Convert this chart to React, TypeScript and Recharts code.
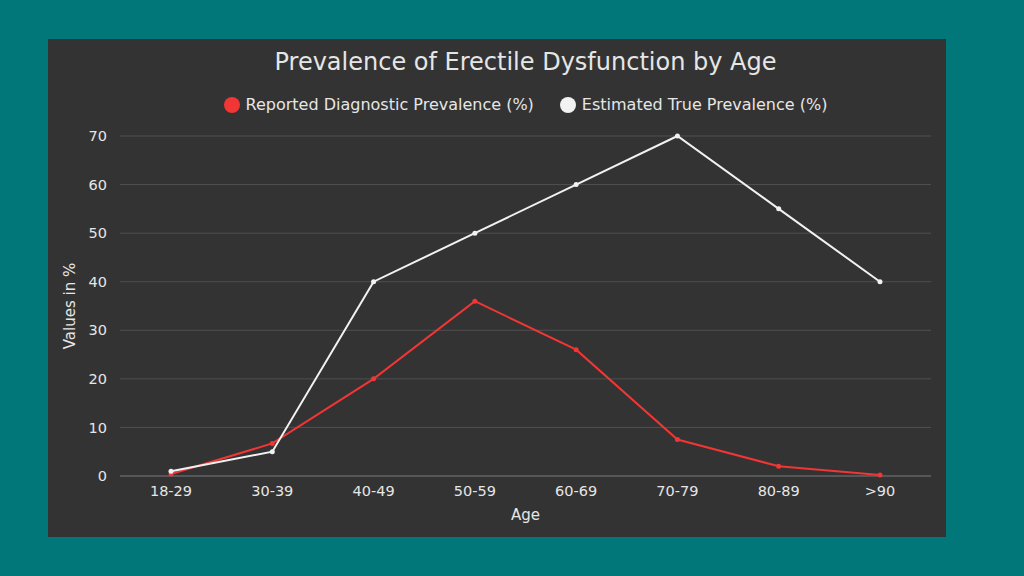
import { CartesianGrid, Line, LineChart, XAxis, YAxis } from "recharts";

const ageGroups = ["18-29", "30-39", "40-49", "50-59", "60-69", "70-79", "80-89", ">90"];
const reportedPrevalence = [0.4, 6.7, 20, 36, 26, 7.5, 2, 0.2];
const estimatedPrevalence = [1, 5, 40, 50, 60, 70, 55, 40];
const yTicks = [0, 10, 20, 30, 40, 50, 60, 70];

const seriesNames = {
  reported: "Reported Diagnostic Prevalence (%)",
  estimated: "Estimated True Prevalence (%)",
};

const RED = "#f23535";
const WHITE = "#f2f2f2";
const TEXT = "#e6e6e6";
const FONT = "'DejaVu Sans', sans-serif";

const data = ageGroups.map((age, i) => ({
  age,
  reported: reportedPrevalence[i],
  estimated: estimatedPrevalence[i],
}));

function ChartLegend() {
  const items = [
    { name: seriesNames.reported, color: RED },
    { name: seriesNames.estimated, color: WHITE },
  ];
  return (
    <div
      style={{
        position: "absolute",
        left: 72,
        width: 811,
        top: 56,
        display: "flex",
        justifyContent: "center",
        gap: 26,
        fontFamily: FONT,
        fontSize: 16,
        color: TEXT,
      }}
    >
      {items.map((item) => (
        <div key={item.name} style={{ display: "flex", alignItems: "center", gap: 6 }}>
          <span style={{ width: 16, height: 16, borderRadius: 8, background: item.color, display: "inline-block" }} />
          <span>{item.name}</span>
        </div>
      ))}
    </div>
  );
}

export default function App() {
  return (
    <div style={{ position: "absolute", left: 0, top: 0, width: 1024, height: 576, background: "#017779" }}>
      <div style={{ position: "absolute", left: 48, top: 39, width: 898, height: 498, background: "#333333" }}>
        <div
          style={{
            position: "absolute",
            left: 72,
            width: 811,
            top: 9,
            textAlign: "center",
            fontFamily: FONT,
            fontSize: 24,
            color: TEXT,
          }}
        >
          Prevalence of Erectile Dysfunction by Age
        </div>
        <ChartLegend />
        <LineChart width={898} height={498} data={data} margin={{ top: 97, right: 15, bottom: 0, left: 0 }}>
          <CartesianGrid vertical={false} stroke="#505050" />
          <XAxis
            dataKey="age"
            height={61}
            padding={{ left: 51, right: 51 }}
            tickLine={false}
            axisLine={{ stroke: "#6e6e6e" }}
            tickMargin={4}
            tick={{ fill: TEXT, fontSize: 14.5, fontFamily: FONT }}
            label={{ value: "Age", position: "insideBottom", offset: 17, fill: TEXT, fontSize: 15, fontFamily: FONT }}
          />
          <YAxis
            width={72}
            domain={[0, 70]}
            ticks={yTicks}
            tickLine={false}
            axisLine={false}
            tickMargin={7}
            tick={{ fill: TEXT, fontSize: 14.5, fontFamily: FONT }}
            label={{
              value: "Values in %",
              angle: -90,
              position: "insideLeft",
              offset: 22,
              style: { textAnchor: "middle" },
              fill: TEXT,
              fontSize: 15,
              fontFamily: FONT,
            }}
          />
          <Line
            type="linear"
            dataKey="reported"
            name={seriesNames.reported}
            stroke={RED}
            strokeWidth={2}
            dot={{ r: 2.5, fill: RED, stroke: RED, strokeWidth: 0 }}
            isAnimationActive={false}
          />
          <Line
            type="linear"
            dataKey="estimated"
            name={seriesNames.estimated}
            stroke={WHITE}
            strokeWidth={2}
            dot={{ r: 2.5, fill: WHITE, stroke: WHITE, strokeWidth: 0 }}
            isAnimationActive={false}
          />
        </LineChart>
      </div>
    </div>
  );
}
